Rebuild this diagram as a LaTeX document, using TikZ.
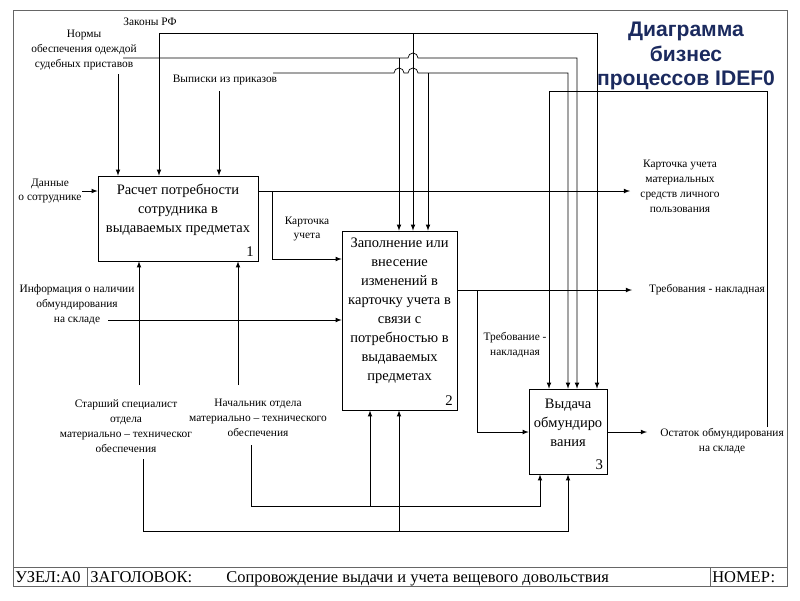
\documentclass[tikz,border=0pt]{standalone}
\usepackage{fontspec}
\setmainfont{Liberation Serif}
\newfontfamily\headfont{Liberation Sans}
\usepackage{xcolor}
\usepackage{tikz}
\usetikzlibrary{positioning,arrows}
\definecolor{headblue}{HTML}{1B2A5E}

\begin{document}
\begin{tikzpicture}[x=0.025cm,y=-0.025cm,>=latex,line width=0.5pt,
    every node/.style={on grid},
    proc/.style={draw,inner sep=0pt},
    proctext/.style={align=center,font=\fontsize{10.3}{13.5}\selectfont},
    procnum/.style={anchor=south east,inner sep=3pt,font=\fontsize{10.5}{12}\selectfont},
    lbl/.style={align=center,inner sep=0pt,font=\fontsize{8.1}{10.6}\selectfont},
    bar/.style={anchor=base west,inner sep=0pt,font=\fontsize{11.7}{13}\selectfont},
    frame/.style={draw=black!60}]
    \useasboundingbox (0,0) rectangle (800,600);
    \draw[frame] (13,10) rectangle (787,586);
    \draw[frame] (13,567) -- (787,567) (87,567) -- (87,586) (710,567) -- (710,586);
    \node[bar] (uzel) at (15,582) {УЗЕЛ:А0};
    \node[bar] (zag) at (90,582) {ЗАГОЛОВОК:};
    \node[bar] (zagtext) at (226,582) {Сопровождение выдачи и учета вещевого довольствия};
    \node[bar] (nomer) at (712,582) {НОМЕР:};
    \node[align=center,text=headblue,font=\headfont\bfseries\fontsize{15}{17.3}\selectfont] (head) at (686,56) {Диаграмма\\бизнес\\процессов IDEF0};

    \node[proc,minimum width=4cm,minimum height=2.125cm] (b1) at (178,218.5) {};
    \node[proc,minimum width=2.875cm,minimum height=4.475cm,below right=2.55cm and 5.5375cm of b1] (b2) {};
    \node[proc,minimum width=1.95cm,minimum height=2.125cm,below right=2.775cm and 4.2125cm of b2] (b3) {};
    \node[proctext,above=0.2125cm of b1] (b1t) {Расчет потребности\\сотрудника в\\выдаваемых предметах};
    \node[proctext,above=0.2375cm of b2] (b2t) {Заполнение или\\внесение\\изменений в\\карточку учета в\\связи с\\потребностью в\\выдаваемых\\предметах};
    \node[proctext,above=0.2125cm of b3] (b3t) {Выдача\\обмундиро\\вания};
    \node[procnum] (b1n) at (b1.south east) {1};
    \node[procnum] (b2n) at (b2.south east) {2};
    \node[procnum] (b3n) at (b3.south east) {3};

    \node[lbl] (laws) at (150,22) {Законы РФ};
    \node[lbl] (norms) at (84,50) {Нормы\\обеспечения одеждой\\судебных приставов};
    \node[lbl] (vyp) at (225,80) {Выписки из приказов};
    \node[lbl] (data) at (50,191) {Данные\\о сотруднике};
    \node[lbl] (card) at (680,186) {Карточка учета\\материальных\\средств личного\\пользования};
    \node[lbl] (card2) at (307,229) {Карточка\\учета};
    \node[lbl] (info) at (77,305) {Информация о наличии\\обмундирования\\на складе};
    \node[lbl] (treb) at (707,290) {Требования - накладная};
    \node[lbl] (treb2) at (515,345) {Требование -\\накладная};
    \node[lbl] (ost) at (722,441) {Остаток обмундирования\\на складе};
    \node[lbl] (star) at (126,426) {Старший специалист\\отдела\\материально – техническог\\обеспечения};
    \node[lbl] (nach) at (258,418) {Начальник отдела\\материально – технического\\обеспечения};

    \coordinate (la) at (159,33);
    \coordinate (na) at (123,58);
    \coordinate (nb) at (118,74);
    \coordinate (nj) at (399,58);
    \coordinate (va) at (273,73);
    \coordinate (vb) at (219,91);
    \coordinate (vj) at (428,73);
    \coordinate (oa) at (767,427);
    \coordinate (da) at (82,191);
    \coordinate (ia) at (108,320);
    \coordinate (ko) at (630,191);
    \coordinate (kj) at (272,191);
    \coordinate (to) at (632,290);
    \coordinate (tj) at (477,290);
    \coordinate (oo) at (647,432);
    \coordinate (m1) at (139,385);
    \coordinate (m2) at (238,385);
    \coordinate (ma) at (251,445);
    \coordinate (mj) at (370,506);
    \coordinate (sa) at (143,459);
    \coordinate (sj) at (399,531);

    \draw[->] (la) -- (la |- b1.north);
    \draw[->] (la) -| (413,0 |- b2.north);
    \draw[->] (la) -| (597,0 |- b3.north);
    \draw[->] (nb) -- (nb |- b1.north);
    \draw[->] (na) -- (408,58) arc[start angle=180,end angle=0,radius=0.125cm] -| (577,0 |- b3.north);
    \draw[->] (nj) -- (nj |- b2.north);
    \draw[->] (vb) -- (vb |- b1.north);
    \draw[->] (va) -- (394,73) arc[start angle=180,end angle=0,radius=0.125cm] -- (408,73) arc[start angle=180,end angle=0,radius=0.125cm] -| (568,0 |- b3.north);
    \draw[->] (vj) -- (vj |- b2.north);
    \draw[->] (oa) |- (549,91) -- (549,0 |- b3.north);
    \draw[->] (da) -- (b1.west |- da);
    \draw[->] (b1.east |- da) -- (ko);
    \draw[->] (kj) |- (b2.west |- 0,259);
    \draw[->] (ia) -- (b2.west |- ia);
    \draw[->] (b2.east |- to) -- (to);
    \draw[->] (tj) |- (b3.west |- 0,432);
    \draw[->] (b3.east |- oo) -- (oo);
    \draw[->] (m1) -- (m1 |- b1.south);
    \draw[->] (m2) -- (m2 |- b1.south);
    \draw[->] (ma) |- (540,506) -- (540,0 |- b3.south);
    \draw[->] (mj) -- (mj |- b2.south);
    \draw[->] (sa) |- (568,531) -- (568,0 |- b3.south);
    \draw[->] (sj) -- (sj |- b2.south);
  \end{tikzpicture}
\end{document}
